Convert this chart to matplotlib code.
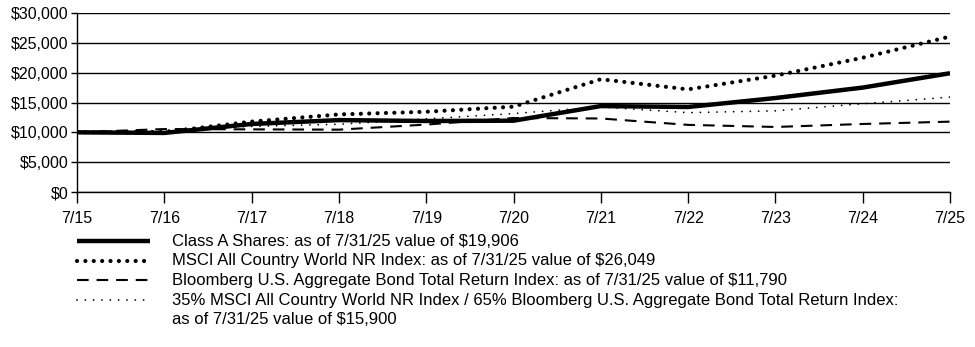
import matplotlib
matplotlib.use("Agg")
import matplotlib.pyplot as plt
from matplotlib.lines import Line2D
from matplotlib.ticker import FuncFormatter

plt.rcParams['font.family'] = ['Liberation Sans', 'DejaVu Sans']

years = ["7/15", "7/16", "7/17", "7/18", "7/19", "7/20", "7/21", "7/22", "7/23", "7/24", "7/25"]
class_a = [10000, 9900, 11400, 12050, 11900, 11950, 14400, 14250, 15750, 17500, 19906]
msci = [10000, 10050, 11800, 13000, 13450, 14300, 18900, 17200, 19500, 22500, 26049]
bond = [10000, 10550, 10500, 10450, 11300, 12400, 12320, 11250, 10900, 11400, 11790]
blend = [10000, 10300, 11000, 11350, 12250, 13150, 14250, 13300, 13600, 14800, 15900]

labels = [
    "Class A Shares: as of 7/31/25 value of $19,906",
    "MSCI All Country World NR Index: as of 7/31/25 value of $26,049",
    "Bloomberg U.S. Aggregate Bond Total Return Index: as of 7/31/25 value of $11,790",
    "35% MSCI All Country World NR Index / 65% Bloomberg U.S. Aggregate Bond Total Return Index:",
]
label_cont = "as of 7/31/25 value of $15,900"
yticks = [0, 5000, 10000, 15000, 20000, 25000, 30000]

W, H = 975, 347
fig = plt.figure(figsize=(W / 100, H / 100), dpi=100)
ax = fig.add_axes([77 / W, 1 - 192 / H, (950 - 77) / W, (192 - 13) / H])

styles = [
    dict(color='black', lw=3.2, solid_capstyle='butt'),
    dict(color='black', lw=3.0, linestyle=(0, (0.01, 2.0)), dash_capstyle='round'),
    dict(color='black', lw=1.5, linestyle=(0, (5.6, 3.8))),
    dict(color='black', lw=1.3, linestyle=(0, (0.01, 4.6)), dash_capstyle='round'),
]
series = [class_a, msci, bond, blend]

x = list(range(len(years)))
for s, st in zip(series, styles):
    ax.plot(x, s, **st)

ax.set_xlim(0, len(years) - 1)
ax.set_ylim(0, 30000)
ax.set_xticks(x)
ax.set_xticklabels(years)
ax.set_yticks(yticks)
ax.yaxis.set_major_formatter(FuncFormatter(lambda v, p: "${:,.0f}".format(v)))
for v in yticks:
    ax.axhline(v, color='black', lw=1.0, zorder=0)

ax.spines['right'].set_visible(False)
ax.spines['top'].set_visible(False)
ax.spines['left'].set_linewidth(1.0)
ax.spines['bottom'].set_linewidth(1.0)
ax.tick_params(axis='x', direction='out', length=8, width=1, labelsize=11.5, pad=6)
ax.tick_params(axis='y', direction='out', length=4, width=1, labelsize=11.5, pad=2)

# legend drawn below the plot
row_y = [241, 261, 280, 300]
for yy, st, lab in zip(row_y, styles, labels):
    fy = 1 - yy / H
    fig.add_artist(Line2D([77 / W, 150 / W], [fy, fy], transform=fig.transFigure, **st))
    fig.text(172 / W, fy, lab, fontsize=12, va='center', ha='left')
fig.text(172 / W, 1 - 320 / H, label_cont, fontsize=12, va='center', ha='left')

fig.savefig("out.png", dpi=100)
